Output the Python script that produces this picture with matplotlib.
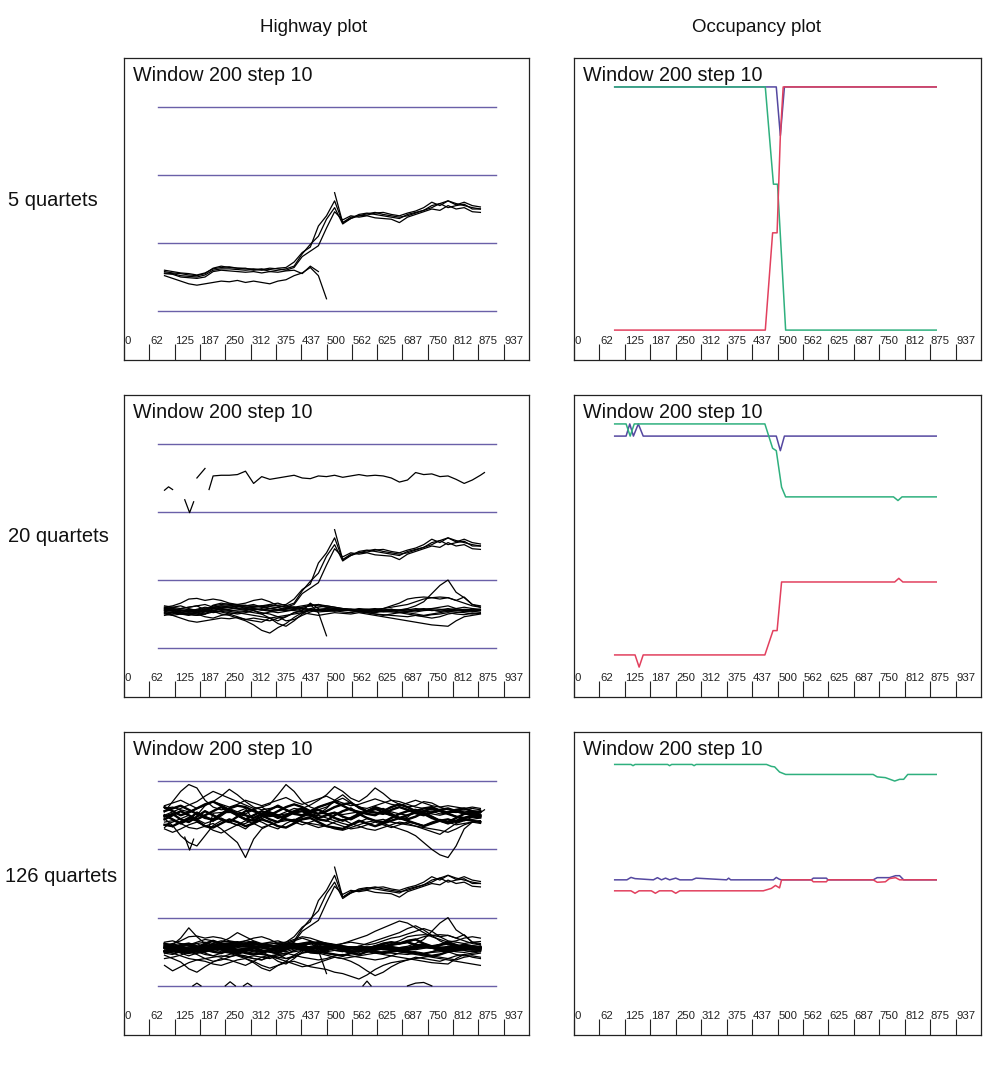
import numpy as np
import matplotlib
matplotlib.use("Agg")
import matplotlib.pyplot as plt
import matplotlib.transforms as mtransforms

nan = np.nan

# ---------------- text / axis data ----------------
COL_TITLES = ["Highway plot", "Occupancy plot"]
ROW_LABELS = ["5 quartets", "20 quartets", "126 quartets"]
PANEL_TITLE = "Window 200 step 10"
TICKS = [0, 62.5, 125, 187.5, 250, 312.5, 375, 437.5, 500, 562.5, 625, 687.5, 750, 812.5, 875, 937.5]
TICK_LABELS = ["0", "62", "125", "187", "250", "312", "375", "437", "500", "562", "625",
               "687", "750", "812", "875", "937"]
HIGHWAY_LEVELS = [0, 1, 2, 3]
HIGHWAY_SPAN = [84, 918]

# window positions (shared grid for highway traces)
HX = [100, 120, 140, 160, 180, 200, 220, 240, 260, 280, 300, 320, 340, 360, 380, 400, 420, 440, 460, 480,
      500, 520, 540, 560, 580, 600, 620, 640, 660, 680, 700, 720, 740, 760, 780, 800, 820, 840, 860, 880]

# ---------------- highway traces: quartets of the 5-quartet set ----------------
TR_A = [0.58, 0.56, 0.55, 0.53, 0.52, 0.55, 0.63, 0.66, 0.64, 0.63, 0.62, 0.62, 0.60, 0.61, 0.63, 0.64, 0.72, 0.86, 0.94, 1.25,
        1.40, 1.62, 1.30, 1.38, 1.40, 1.41, 1.44, 1.45, 1.42, 1.40, 1.44, 1.47, 1.52, 1.60, 1.55, 1.62, 1.56, 1.60, 1.55, 1.53]
TR_B = [0.56, 0.55, 0.52, 0.51, 0.50, 0.53, 0.60, 0.62, 0.62, 0.61, 0.60, 0.61, 0.62, 0.58, 0.60, 0.62, 0.66, 0.84, 0.98, 1.10,
        1.35, 1.52, 1.28, 1.36, 1.42, 1.44, 1.42, 1.40, 1.38, 1.36, 1.42, 1.45, 1.48, 1.52, 1.58, 1.52, 1.55, 1.57, 1.50, 1.50]
TR_C = [0.60, 0.58, 0.56, 0.55, 0.53, 0.56, 0.62, 0.64, 0.65, 0.63, 0.63, 0.60, 0.61, 0.63, 0.62, 0.60, 0.64, 0.80, 0.88, 0.96,
        1.22, 1.46, 1.34, 1.40, 1.38, 1.40, 1.37, 1.36, 1.35, 1.30, 1.38, 1.42, 1.46, 1.50, 1.48, 1.55, 1.50, 1.52, 1.46, 1.45]
TR_D = [0.52, 0.48, 0.44, 0.40, 0.38, 0.40, 0.42, 0.44, 0.43, 0.45, 0.42, 0.44, 0.42, 0.40, 0.44, 0.46, 0.52, 0.56, 0.64, 0.52,
        0.18, nan, nan, nan, nan, nan, nan, nan, nan, nan, nan, nan, nan, nan, nan, nan, nan, nan, nan, nan]
TR_E = [0.55, 0.54, 0.50, 0.49, 0.48, 0.50, 0.58, 0.60, 0.59, 0.58, 0.57, 0.58, 0.56, 0.58, 0.57, 0.59, 0.60, 0.55, 0.66, 0.58,
        nan, 1.74, 1.30, 1.36, 1.40, 1.43, 1.45, 1.42, 1.40, 1.38, 1.40, 1.44, 1.48, 1.55, 1.58, 1.62, 1.58, 1.55, 1.52, 1.50]

# ---------------- extra traces of the 20-quartet set ----------------
TOP_X = [100, 110, 120, nan, 150, 162, 172, nan, 180, 200, nan, 210, 220, 240, 260, 280, 300, 320, 340, 360, 380, 400,
         420, 440, 460, 480, 500, 520, 540, 560, 580, 600, 620, 640, 660, 680, 700, 720, 740, 760, 780, 800, 820,
         840, 860, 880, 890]
TOP_Y = [2.32, 2.37, 2.33, nan, 2.18, 1.99, 2.15, nan, 2.50, 2.64, nan, 2.33, 2.53, 2.54, 2.54, 2.55, 2.60, 2.42,
         2.52, 2.48, 2.50, 2.52, 2.54, 2.50, 2.49, 2.53, 2.52, 2.54, 2.51, 2.53, 2.55, 2.53, 2.54, 2.53, 2.50, 2.44,
         2.47, 2.58, 2.55, 2.56, 2.52, 2.53, 2.48, 2.42, 2.47, 2.54, 2.58]

LOW_1 = [0.58, 0.60, 0.62, 0.58, 0.55, 0.57, 0.60, 0.62, 0.60, 0.58, 0.57, 0.56, 0.58, 0.55, 0.56, 0.58, 0.60, 0.58, 0.57, 0.55,
         0.54, 0.56, 0.57, 0.55, 0.54, 0.56, 0.55, 0.53, 0.54, 0.56, 0.58, 0.62, 0.68, 0.80, 0.92, 1.00, 0.82, 0.74, 0.64, 0.62]
LOW_2 = [0.52, 0.50, 0.54, 0.56, 0.52, 0.50, 0.55, 0.58, 0.56, 0.54, 0.55, 0.57, 0.56, 0.58, 0.60, 0.56, 0.55, 0.54, 0.56, 0.55,
         0.57, 0.56, 0.55, 0.56, 0.55, 0.53, 0.56, 0.58, 0.62, 0.66, 0.72, 0.74, 0.75, 0.74, 0.72, 0.74, 0.70, 0.66, 0.62, 0.60]
LOW_3 = [0.55, 0.56, 0.52, 0.54, 0.56, 0.58, 0.54, 0.50, 0.48, 0.44, 0.40, 0.34, 0.26, 0.22, 0.30, 0.36, 0.45, 0.52, 0.55, 0.56,
         0.58, 0.56, 0.55, 0.57, 0.56, 0.55, 0.54, 0.55, 0.56, 0.55, 0.54, 0.53, 0.55, 0.56, 0.54, 0.55, 0.56, 0.55, 0.57, 0.56]
LOW_4 = [0.60, 0.62, 0.66, 0.72, 0.73, 0.70, 0.72, 0.70, 0.66, 0.64, 0.66, 0.70, 0.72, 0.68, 0.62, 0.60, 0.58, 0.60, 0.62, 0.64,
         0.60, 0.58, 0.57, 0.56, 0.58, 0.57, 0.55, 0.56, 0.57, 0.55, 0.56, 0.58, 0.57, 0.55, 0.56, 0.58, 0.56, 0.55, 0.54, 0.55]
LOW_5 = [0.50, 0.48, 0.50, 0.52, 0.50, 0.46, 0.44, 0.48, 0.50, 0.46, 0.42, 0.40, 0.38, 0.44, 0.46, 0.48, 0.50, 0.52, 0.50, 0.48,
         0.50, 0.52, 0.51, 0.50, 0.52, 0.50, 0.48, 0.46, 0.44, 0.42, 0.40, 0.38, 0.36, 0.34, 0.33, 0.32, 0.40, 0.46, 0.48, 0.50]
LOW_6 = [0.56, 0.58, 0.56, 0.54, 0.57, 0.60, 0.58, 0.56, 0.57, 0.60, 0.62, 0.64, 0.60, 0.58, 0.56, 0.55, 0.57, 0.58, 0.56, 0.57,
         0.58, 0.57, 0.56, 0.55, 0.57, 0.56, 0.55, 0.54, 0.53, 0.52, 0.54, 0.56, 0.57, 0.58, 0.60, 0.62, 0.58, 0.56, 0.55, 0.57]
LOW_7 = [0.48, 0.50, 0.52, 0.50, 0.48, 0.50, 0.53, 0.55, 0.54, 0.52, 0.50, 0.48, 0.46, 0.44, 0.40, 0.46, 0.52, 0.54, 0.55, 0.53,
         0.54, 0.55, 0.53, 0.52, 0.54, 0.53, 0.52, 0.54, 0.55, 0.53, 0.52, 0.50, 0.48, 0.50, 0.52, 0.54, 0.53, 0.52, 0.50, 0.51]
LOW_8 = [0.62, 0.60, 0.58, 0.60, 0.62, 0.64, 0.60, 0.57, 0.55, 0.56, 0.58, 0.60, 0.62, 0.64, 0.66, 0.62, 0.60, 0.58, 0.57, 0.56,
         0.55, 0.56, 0.58, 0.57, 0.56, 0.55, 0.57, 0.58, 0.60, 0.62, 0.64, 0.68, 0.72, 0.74, 0.75, 0.74, 0.70, 0.75, 0.64, 0.60]
LOW_9 = [0.54, 0.52, 0.55, 0.57, 0.55, 0.53, 0.55, 0.58, 0.60, 0.62, 0.58, 0.55, 0.52, 0.50, 0.46, 0.40, 0.42, 0.48, 0.53, 0.57,
         0.55, 0.54, 0.56, 0.55, 0.53, 0.52, 0.50, 0.49, 0.48, 0.47, 0.46, 0.48, 0.47, 0.49, 0.50, 0.52, 0.50, 0.49, 0.51, 0.52]
LOW_10 = [0.57, 0.55, 0.58, 0.60, 0.62, 0.56, 0.52, 0.54, 0.52, 0.50, 0.52, 0.55, 0.50, 0.44, 0.36, 0.32, 0.40, 0.50, 0.58, 0.60,
          0.62, 0.60, 0.58, 0.57, 0.56, 0.57, 0.58, 0.56, 0.55, 0.56, 0.57, 0.55, 0.56, 0.58, 0.57, 0.56, 0.55, 0.57, 0.56, 0.55]
LOW_11 = [0.51, 0.53, 0.50, 0.48, 0.52, 0.54, 0.56, 0.53, 0.50, 0.52, 0.54, 0.52, 0.50, 0.53, 0.55, 0.57, 0.60, 0.62, 0.64, 0.62,
          0.60, 0.58, 0.57, 0.55, 0.54, 0.52, 0.50, 0.48, 0.50, 0.52, 0.50, 0.48, 0.46, 0.44, 0.46, 0.50, 0.52, 0.54, 0.53, 0.55]
LOW_12 = [0.59, 0.57, 0.55, 0.53, 0.54, 0.56, 0.58, 0.60, 0.62, 0.64, 0.60, 0.58, 0.56, 0.54, 0.52, 0.54, 0.56, 0.60, 0.62, 0.64,
          0.62, 0.60, 0.58, 0.56, 0.55, 0.54, 0.53, 0.55, 0.57, 0.55, 0.54, 0.56, 0.58, 0.56, 0.54, 0.56, 0.58, 0.60, 0.58, 0.57]

# ---------------- extra traces of the 126-quartet set ----------------
UP_1 = [2.55, 2.70, 2.85, 2.95, 2.90, 2.72, 2.62, 2.58, 2.60, 2.55, 2.52, 2.58, 2.62, 2.55, 2.50, 2.55, 2.60, 2.58, 2.54, 2.52,
        2.60, 2.72, 2.80, 2.70, 2.60, 2.55, 2.58, 2.60, 2.55, 2.52, 2.50, 2.54, 2.56, 2.52, 2.50, 2.53, 2.55, 2.52, 2.50, 2.52]
UP_2 = [2.45, 2.35, 2.20, 2.10, 2.05, 2.20, 2.35, 2.42, 2.40, 2.36, 2.30, 2.40, 2.45, 2.50, 2.48, 2.44, 2.40, 2.45, 2.48, 2.50,
        2.46, 2.42, 2.38, 2.35, 2.40, 2.45, 2.42, 2.38, 2.34, 2.30, 2.26, 2.20, 2.10, 2.00, 1.92, 1.88, 2.05, 2.30, 2.40, 2.42]
UP_3 = [2.50, 2.55, 2.60, 2.65, 2.70, 2.78, 2.85, 2.80, 2.75, 2.70, 2.65, 2.60, 2.62, 2.66, 2.80, 2.95, 2.85, 2.70, 2.62, 2.58,
        2.62, 2.70, 2.75, 2.68, 2.62, 2.60, 2.64, 2.68, 2.72, 2.70, 2.66, 2.62, 2.60, 2.58, 2.56, 2.55, 2.54, 2.56, 2.55, 2.54]
UP_4 = [2.40, 2.42, 2.38, 2.32, 2.30, 2.34, 2.38, 2.30, 2.20, 2.10, 1.88, 2.15, 2.30, 2.36, 2.40, 2.42, 2.44, 2.40, 2.38, 2.36,
        2.34, 2.30, 2.28, 2.32, 2.36, 2.40, 2.42, 2.44, 2.40, 2.38, 2.36, 2.34, 2.32, 2.30, 2.28, 2.25, 2.30, 2.36, 2.40, 2.42]
UP_5 = [2.60, 2.62, 2.58, 2.55, 2.60, 2.65, 2.70, 2.78, 2.88, 2.80, 2.70, 2.62, 2.58, 2.60, 2.62, 2.58, 2.55, 2.60, 2.65, 2.72,
        2.80, 2.92, 2.85, 2.75, 2.70, 2.78, 2.90, 2.82, 2.72, 2.66, 2.62, 2.64, 2.70, 2.68, 2.62, 2.58, 2.56, 2.58, 2.60, 2.58]
UP_6 = [2.48, 2.52, 2.44, 2.40, 2.48, 2.56, 2.50, 2.44, 2.40, 2.48, 2.56, 2.58, 2.50, 2.44, 2.40, 2.48, 2.54, 2.56, 2.50, 2.44,
        2.42, 2.50, 2.56, 2.60, 2.52, 2.46, 2.42, 2.40, 2.46, 2.52, 2.56, 2.58, 2.52, 2.46, 2.42, 2.40, 2.46, 2.52, 2.54, 2.50]
UP_7 = [2.56, 2.60, 2.64, 2.58, 2.52, 2.46, 2.44, 2.52, 2.60, 2.64, 2.62, 2.56, 2.52, 2.50, 2.56, 2.62, 2.66, 2.62, 2.56, 2.52,
        2.56, 2.62, 2.66, 2.68, 2.62, 2.56, 2.54, 2.52, 2.58, 2.62, 2.58, 2.53, 2.50, 2.54, 2.58, 2.60, 2.56, 2.53, 2.52, 2.56]
UP_8 = [2.36, 2.34, 2.40, 2.46, 2.42, 2.34, 2.32, 2.38, 2.44, 2.40, 2.34, 2.38, 2.44, 2.40, 2.34, 2.32, 2.38, 2.44, 2.46, 2.40,
        2.34, 2.32, 2.30, 2.36, 2.42, 2.38, 2.34, 2.38, 2.42, 2.46, 2.42, 2.38, 2.34, 2.38, 2.42, 2.44, 2.40, 2.44, 2.42, 2.40]
UP_9 = [2.62, 2.56, 2.50, 2.54, 2.60, 2.66, 2.70, 2.64, 2.58, 2.52, 2.50, 2.46, 2.52, 2.58, 2.64, 2.58, 2.52, 2.50, 2.56, 2.62,
        2.66, 2.70, 2.64, 2.58, 2.55, 2.52, 2.50, 2.56, 2.62, 2.66, 2.62, 2.56, 2.60, 2.62, 2.57, 2.54, 2.58, 2.60, 2.56, 2.55]
UP_10 = [2.36, 2.40, 2.45, 2.50, 2.44, 2.38, 2.42, 2.46, 2.40, 2.35, 2.38, 2.44, 2.40, 2.34, 2.30, 2.38, 2.44, 2.40, 2.36, 2.32,
         2.35, 2.40, 2.44, 2.38, 2.34, 2.30, 2.28, 2.32, 2.36, 2.40, 2.38, 2.34, 2.30, 2.26, 2.22, 2.30, 2.38, 2.42, 2.44, 2.46]
UP_11 = [2.50, 2.44, 2.38, 2.44, 2.54, 2.48, 2.42, 2.50, 2.58, 2.50, 2.44, 2.50, 2.56, 2.52, 2.46, 2.50, 2.56, 2.60, 2.52, 2.46,
         2.50, 2.54, 2.48, 2.44, 2.50, 2.56, 2.60, 2.54, 2.50, 2.46, 2.50, 2.54, 2.56, 2.60, 2.56, 2.52, 2.48, 2.46, 2.50, 2.49]
UP_12 = [2.44, 2.50, 2.56, 2.50, 2.44, 2.50, 2.56, 2.62, 2.56, 2.50, 2.44, 2.42, 2.48, 2.54, 2.50, 2.44, 2.42, 2.48, 2.54, 2.58,
         2.52, 2.46, 2.42, 2.46, 2.52, 2.56, 2.62, 2.58, 2.52, 2.46, 2.44, 2.48, 2.54, 2.48, 2.42, 2.38, 2.42, 2.46, 2.48, 2.47]
UP_13 = [2.30, 2.25, 2.30, 2.36, 2.40, 2.35, 2.28, 2.24, 2.30, 2.36, 2.42, 2.38, 2.32, 2.36, 2.40, 2.44, 2.40, 2.36, 2.40, 2.44,
         2.42, 2.38, 2.34, 2.30, 2.32, 2.36, 2.40, 2.36, 2.32, 2.36, 2.40, 2.38, 2.35, 2.40, 2.44, 2.40, 2.36, 2.38, 2.40, 2.38]
UP_14 = [2.64, 2.68, 2.72, 2.66, 2.60, 2.64, 2.70, 2.66, 2.62, 2.66, 2.72, 2.68, 2.64, 2.68, 2.72, 2.76, 2.70, 2.66, 2.70, 2.74,
         2.78, 2.72, 2.68, 2.64, 2.66, 2.70, 2.74, 2.70, 2.66, 2.64, 2.68, 2.72, 2.68, 2.64, 2.62, 2.64, 2.62, 2.60, 2.62, 2.60]

BOT_1 = [0.55, 0.60, 0.70, 0.85, 0.72, 0.62, 0.60, 0.64, 0.70, 0.78, 0.72, 0.66, 0.62, 0.60, 0.58, 0.62, 0.66, 0.70, 0.66, 0.62,
         0.60, 0.58, 0.62, 0.66, 0.70, 0.74, 0.80, 0.85, 0.90, 0.95, 0.92, 0.85, 0.78, 0.72, 0.68, 0.64, 0.66, 0.70, 0.72, 0.70]
BOT_2 = [0.45, 0.40, 0.35, 0.25, 0.20, 0.28, 0.35, 0.40, 0.38, 0.34, 0.30, 0.36, 0.42, 0.45, 0.40, 0.36, 0.32, 0.28, 0.30, 0.34,
         0.38, 0.42, 0.40, 0.36, 0.30, 0.22, 0.15, 0.20, 0.28, 0.34, 0.38, 0.42, 0.40, 0.38, 0.36, 0.40, 0.44, 0.46, 0.42, 0.40]
BOT_3 = [0.50, 0.52, 0.48, 0.44, 0.48, 0.54, 0.58, 0.54, 0.50, 0.46, 0.50, 0.55, 0.58, 0.55, 0.52, 0.50, 0.54, 0.58, 0.62, 0.60,
         0.56, 0.52, 0.50, 0.54, 0.58, 0.62, 0.66, 0.70, 0.74, 0.78, 0.84, 0.88, 0.82, 0.74, 0.66, 0.60, 0.58, 0.56, 0.55, 0.54]
BOT_4 = [0.62, 0.58, 0.54, 0.50, 0.56, 0.62, 0.66, 0.62, 0.56, 0.52, 0.48, 0.46, 0.48, 0.52, 0.56, 0.60, 0.62, 0.58, 0.54, 0.50,
         0.48, 0.46, 0.44, 0.48, 0.52, 0.54, 0.58, 0.62, 0.64, 0.62, 0.66, 0.68, 0.62, 0.58, 0.56, 0.52, 0.56, 0.60, 0.58, 0.56]
BOT_5 = [0.48, 0.46, 0.50, 0.54, 0.52, 0.48, 0.44, 0.42, 0.46, 0.50, 0.52, 0.50, 0.47, 0.44, 0.42, 0.40, 0.44, 0.48, 0.50, 0.48,
         0.45, 0.42, 0.40, 0.42, 0.44, 0.46, 0.48, 0.50, 0.52, 0.50, 0.48, 0.46, 0.44, 0.42, 0.40, 0.38, 0.36, 0.34, 0.32, 0.30]
BOT_6 = [0.56, 0.52, 0.58, 0.60, 0.55, 0.50, 0.54, 0.58, 0.52, 0.48, 0.52, 0.57, 0.59, 0.54, 0.50, 0.54, 0.58, 0.55, 0.51, 0.50,
         0.54, 0.58, 0.55, 0.51, 0.50, 0.54, 0.58, 0.60, 0.56, 0.52, 0.55, 0.59, 0.61, 0.56, 0.52, 0.50, 0.54, 0.58, 0.55, 0.54]
BOT_7 = [0.50, 0.55, 0.60, 0.62, 0.58, 0.53, 0.50, 0.48, 0.54, 0.59, 0.62, 0.57, 0.52, 0.50, 0.48, 0.53, 0.58, 0.54, 0.49, 0.48,
         0.52, 0.56, 0.52, 0.48, 0.46, 0.50, 0.55, 0.58, 0.60, 0.62, 0.64, 0.60, 0.58, 0.56, 0.60, 0.64, 0.60, 0.56, 0.54, 0.52]
BOT_8 = [0.40, 0.42, 0.45, 0.50, 0.46, 0.40, 0.36, 0.38, 0.42, 0.46, 0.44, 0.40, 0.38, 0.42, 0.46, 0.48, 0.45, 0.42, 0.40, 0.38,
         0.40, 0.44, 0.46, 0.44, 0.42, 0.40, 0.38, 0.40, 0.44, 0.48, 0.50, 0.48, 0.46, 0.50, 0.54, 0.50, 0.46, 0.44, 0.46, 0.48]
BOT_9 = [0.64, 0.66, 0.62, 0.60, 0.64, 0.68, 0.66, 0.62, 0.60, 0.62, 0.66, 0.64, 0.60, 0.58, 0.60, 0.64, 0.68, 0.72, 0.70, 0.66,
         0.62, 0.60, 0.62, 0.64, 0.62, 0.60, 0.62, 0.66, 0.70, 0.72, 0.76, 0.80, 0.84, 0.80, 0.72, 0.66, 0.64, 0.62, 0.64, 0.65]
BOT_10 = [0.30, 0.22, 0.28, 0.34, 0.38, 0.36, 0.32, 0.30, 0.34, 0.38, 0.40, 0.36, 0.30, 0.26, 0.30, 0.34, 0.36, 0.32, 0.28, 0.26,
          0.24, 0.20, 0.18, 0.14, 0.10, 0.16, 0.24, 0.30, 0.34, 0.36, 0.38, 0.40, 0.42, 0.44, 0.42, 0.40, 0.38, 0.42, 0.44, 0.42]
ZERO_X = [170, 180, 190, nan, 250, 262, 275, nan, 295, 305, 315, nan, 590, 600, 610, nan, 700, 720, 740, 760]
ZERO_Y = [0.0, 0.04, 0.0, nan, 0.0, 0.06, 0.0, nan, 0.0, 0.04, 0.0, nan, 0.0, 0.07, 0.0, nan, 0.0, 0.04, 0.05, 0.0]

# ---------------- occupancy curves (vertices) ----------------
OCC1_GREEN_X = [100, 470, 490, 500, 520, 890]
OCC1_GREEN_Y = [1.0, 1.0, 0.60, 0.60, 0.0, 0.0]
OCC1_BLUE_X = [100, 497, 507, 517, 890]
OCC1_BLUE_Y = [1.0, 1.0, 0.80, 1.0, 1.0]
OCC1_RED_X = [100, 470, 488, 499, 507, 514, 890]
OCC1_RED_Y = [0.0, 0.0, 0.40, 0.40, 0.80, 1.0, 1.0]

OCC2_GREEN_X = [100, 128, 138, 148, 158, 469, 488, 497, 510, 520, 785, 796, 806, 890]
OCC2_GREEN_Y = [1.0, 1.0, 0.95, 1.0, 1.0, 1.0, 0.90, 0.89, 0.74, 0.70, 0.70, 0.685, 0.70, 0.70]
OCC2_BLUE_X = [100, 128, 137, 146, 158, 170, 497, 507, 517, 890]
OCC2_BLUE_Y = [0.95, 0.95, 1.0, 0.95, 1.0, 0.95, 0.95, 0.89, 0.95, 0.95]
OCC2_RED_X = [100, 150, 160, 170, 469, 489, 499, 510, 788, 798, 808, 890]
OCC2_RED_Y = [0.05, 0.05, 0.0, 0.05, 0.05, 0.15, 0.15, 0.35, 0.35, 0.365, 0.35, 0.35]

OCC3_GREEN_X = [100, 140, 145, 150, 230, 235, 240, 290, 295, 300, 473, 485, 493, 505, 520, 735, 745, 765, 788,
                800, 810, 820, 890]
OCC3_GREEN_Y = [0.986, 0.986, 0.981, 0.986, 0.986, 0.981, 0.986, 0.986, 0.981, 0.986, 0.986, 0.978, 0.976, 0.955,
                0.945, 0.945, 0.935, 0.932, 0.918, 0.925, 0.925, 0.945, 0.945]
OCC3_BLUE_X = [100, 130, 140, 150, 195, 205, 215, 225, 235, 250, 260, 290, 300, 375, 380, 385, 490, 497, 505, 510,
               583, 588, 620, 624, 735, 745, 775, 790, 800, 810, 890]
OCC3_BLUE_Y = [0.513, 0.513, 0.523, 0.518, 0.513, 0.522, 0.513, 0.520, 0.513, 0.520, 0.513, 0.513, 0.520, 0.513,
               0.520, 0.513, 0.513, 0.523, 0.515, 0.513, 0.513, 0.520, 0.520, 0.513, 0.513, 0.522, 0.522, 0.530,
               0.530, 0.513, 0.513]
OCC3_RED_X = [100, 140, 150, 160, 190, 200, 210, 240, 250, 260, 465, 485, 495, 505, 510, 583, 588, 620, 624, 735,
              745, 765, 775, 790, 800, 890]
OCC3_RED_Y = [0.468, 0.468, 0.458, 0.468, 0.468, 0.458, 0.468, 0.468, 0.458, 0.468, 0.468, 0.478, 0.490, 0.480,
              0.513, 0.513, 0.505, 0.505, 0.513, 0.513, 0.503, 0.505, 0.518, 0.522, 0.513, 0.513]

# ---------------- styling ----------------
plt.rcParams['font.family'] = ['Liberation Sans', 'DejaVu Sans']
W, H = 1000, 1068
LEVEL_COLOR = '#6a60a8'
GREEN = '#2fb07e'
BLUE = '#5548a0'
RED = '#e2405e'

fig = plt.figure(figsize=(W / 100, H / 100), dpi=100)
fig.patch.set_facecolor('white')

COLS_PX = [(124, 529), (574, 981)]
ROWS_PX = [(58, 360), (395, 697), (732, 1035)]


def make_ax(col, row):
    x0, x1 = COLS_PX[col]
    y0, y1 = ROWS_PX[row]
    ax = fig.add_axes([x0 / W, 1 - y1 / H, (x1 - x0) / W, (y1 - y0) / H])
    ax.set_xlim(0, 1000)
    for s in ax.spines.values():
        s.set_linewidth(0.9)
        s.set_color('#222222')
    ax.set_yticks([])
    ax.set_xticks(TICKS)
    ax.tick_params(axis='x', direction='in', length=11.5, width=0.8, color='#222222',
                   labelbottom=False, bottom=True, top=False)
    trans = mtransforms.blended_transform_factory(ax.transData, ax.transAxes)
    for t, lab in zip(TICKS, TICK_LABELS):
        ax.text(t + 1.5, 0.064, lab, transform=trans, ha='left', va='center', fontsize=8.2,
                color='#222222')
    ax.text(0.022, 0.975, PANEL_TITLE, transform=ax.transAxes, ha='left', va='top', fontsize=14.2,
            color='#111111')
    return ax


def highway(ax, lines_thin, lines_core=()):
    ax.set_ylim(-0.72, 3.72)
    for lv in HIGHWAY_LEVELS:
        ax.plot(HIGHWAY_SPAN, [lv, lv], color=LEVEL_COLOR, lw=1.0, zorder=1)
    for xs, ys in lines_core:
        ax.plot(xs, ys, color='black', lw=1.7, zorder=2)
    for xs, ys in lines_thin:
        ax.plot(xs, ys, color='black', lw=0.9, zorder=3)


def occupancy(ax, curves):
    ax.set_ylim(-0.123, 1.119)
    for xs, ys, c in curves:
        ax.plot(xs, ys, color=c, lw=1.1)


row1_lines = [(HX, TR_A), (HX, TR_B), (HX, TR_C), (HX, TR_D), (HX, TR_E)]
low20 = [LOW_1, LOW_2, LOW_3, LOW_4, LOW_5, LOW_6, LOW_7, LOW_8, LOW_9, LOW_10, LOW_11, LOW_12]
row2_lines = row1_lines + [(TOP_X, TOP_Y)] + [(HX, l) for l in low20]
up_outer = [UP_1, UP_2, UP_3, UP_4, UP_5, UP_10, UP_13, UP_14]
up_core = [UP_6, UP_7, UP_8, UP_9, UP_11, UP_12]
bot_outer = [BOT_1, BOT_2, BOT_3, BOT_5, BOT_8, BOT_9, BOT_10]
bot_core = [BOT_4, BOT_6, BOT_7]
row3_lines = row2_lines + [(HX, l) for l in up_outer + up_core + bot_outer + bot_core] + [(ZERO_X, ZERO_Y)]
row3_core = [(HX, l) for l in up_core + bot_core + [LOW_6, LOW_11, LOW_12]]

ax = make_ax(0, 0)
highway(ax, row1_lines)
ax = make_ax(0, 1)
highway(ax, row2_lines)
ax = make_ax(0, 2)
highway(ax, row3_lines, row3_core)

ax = make_ax(1, 0)
occupancy(ax, [(OCC1_BLUE_X, OCC1_BLUE_Y, BLUE), (OCC1_GREEN_X, OCC1_GREEN_Y, GREEN),
               (OCC1_RED_X, OCC1_RED_Y, RED)])
ax = make_ax(1, 1)
occupancy(ax, [(OCC2_BLUE_X, OCC2_BLUE_Y, BLUE), (OCC2_GREEN_X, OCC2_GREEN_Y, GREEN),
               (OCC2_RED_X, OCC2_RED_Y, RED)])
ax = make_ax(1, 2)
occupancy(ax, [(OCC3_GREEN_X, OCC3_GREEN_Y, GREEN), (OCC3_BLUE_X, OCC3_BLUE_Y, BLUE),
               (OCC3_RED_X, OCC3_RED_Y, RED)])

# column and row labels
fig.text(314 / W, 1 - 27 / H, COL_TITLES[0], ha='center', va='center', fontsize=13.5, color='#111111')
fig.text(756 / W, 1 - 27 / H, COL_TITLES[1], ha='center', va='center', fontsize=13.5, color='#111111')
for lab, yc, xl in zip(ROW_LABELS, [200, 537, 877], [8, 8, 5]):
    fig.text(xl / W, 1 - yc / H, lab, ha='left', va='center', fontsize=14.5, color='#111111')

fig.savefig('out.png', dpi=100, facecolor='white')
